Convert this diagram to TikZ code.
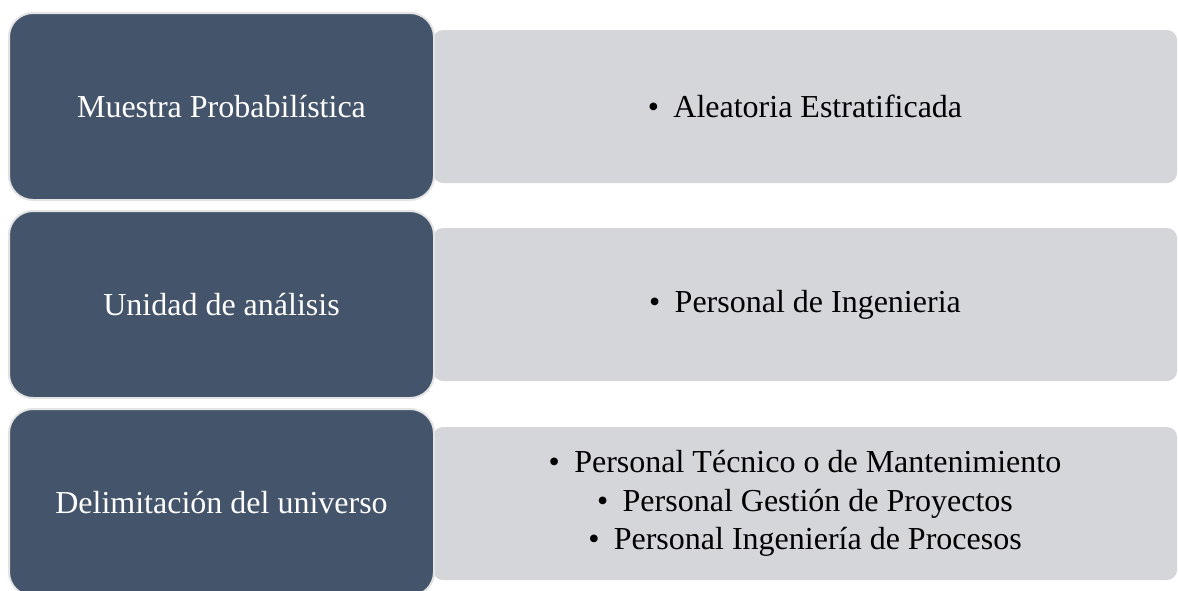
\documentclass[tikz,border=0pt]{standalone}
\usepackage{fontspec}
\setmainfont{Liberation Serif}
\usepackage{tikz}

\definecolor{slateblue}{HTML}{44546A}
\definecolor{panelgray}{HTML}{D5D6DA}
\definecolor{edgegray}{HTML}{E4E4E4}

\newcommand{\itm}{•\hspace{0.45em}}

\tikzset{
  label box/.style={fill=slateblue, draw=edgegray, line width=1pt, rounded corners=12pt,
    minimum width=212.5pt, minimum height=93.5pt, text=white,
    font=\fontsize{16}{19}\selectfont},
  list box/.style={fill=panelgray, rounded corners=5pt,
    minimum width=372pt, minimum height=76.5pt, align=center,
    font=\fontsize{16}{19.25}\selectfont}
}

\begin{document}
\begin{tikzpicture}[x=0.5pt, y=-0.5pt]
        \useasboundingbox (0,0) rectangle (1178,590);
        \clip (0,0) rectangle (1178,590);

        % Row 1
        \node[list box] (aleatoria) at (805,106.5) {\itm Aleatoria Estratificada};
        \node[label box] (muestra) at (221.5,106.5) {Muestra Probabilística};

        % Row 2
        \node[list box] (personal) at (805,304.5) {\itm Personal de Ingenieria};
        \node[label box] (unidad) at (221.5,304.5) {Unidad de análisis};

        % Row 3
        \node[list box] (grupos) at (805,503.5)
          {\itm Personal Técnico o de Mantenimiento\\
           \itm Personal Gestión de Proyectos\\
           \itm Personal Ingeniería de Procesos};
        \node[label box] (universo) at (221.5,502.5) {Delimitación del universo};
    \end{tikzpicture}
\end{document}
